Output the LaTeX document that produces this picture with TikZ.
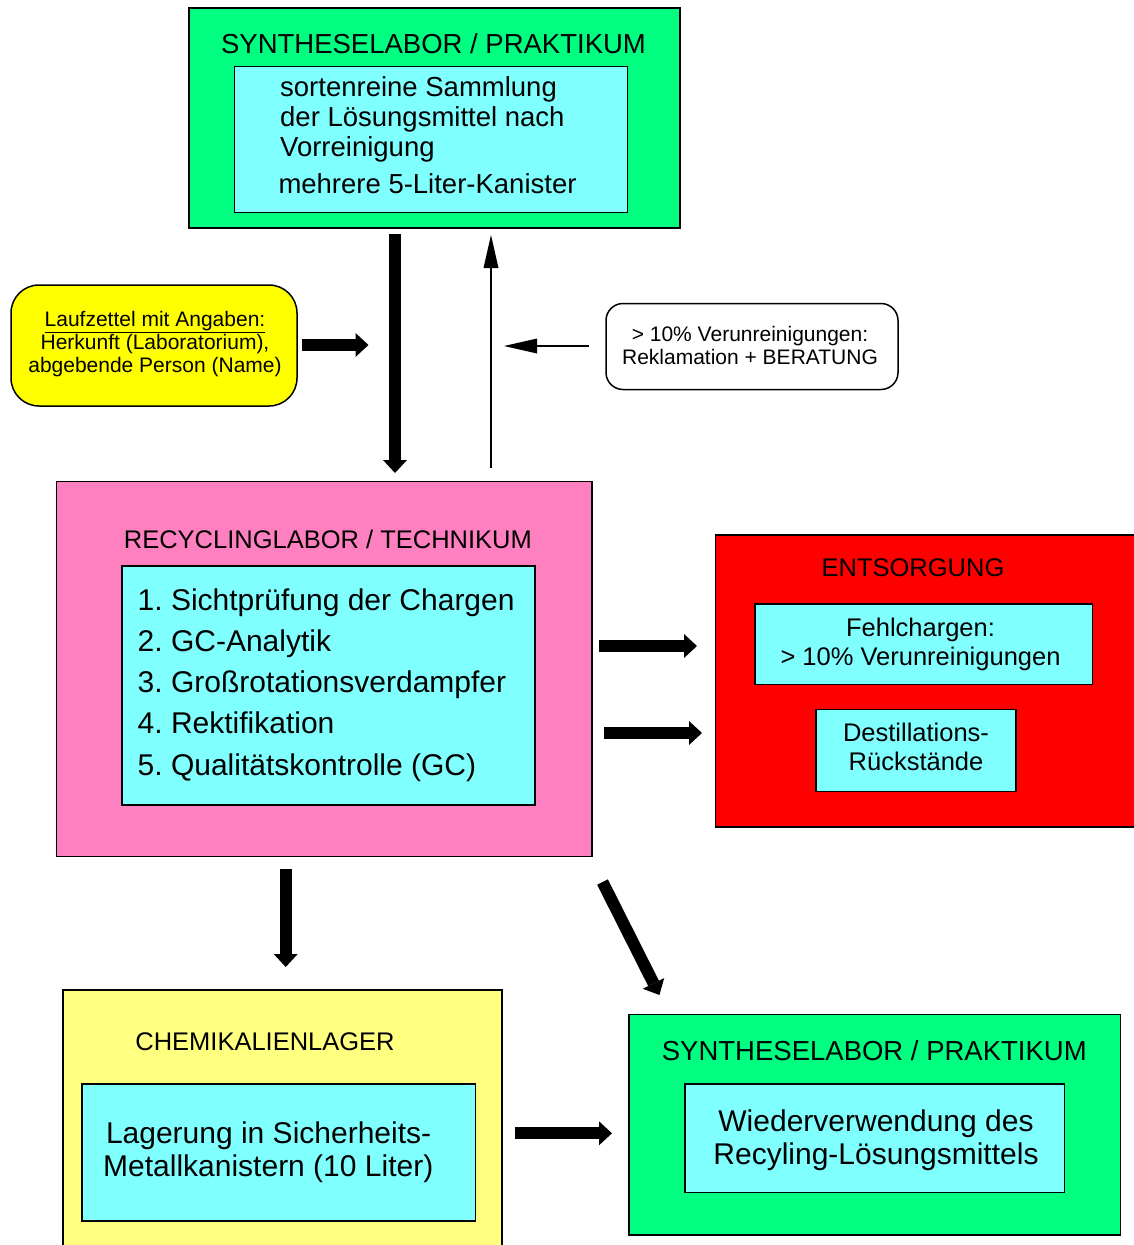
\documentclass[tikz,border=0pt]{standalone}
\usepackage{fontspec}
\setmainfont{Liberation Sans}
\frenchspacing
\usetikzlibrary{arrows.meta}
\usetikzlibrary{positioning}
\definecolor{synth}{RGB}{0,255,128}
\definecolor{inner}{RGB}{128,255,255}
\definecolor{recyc}{RGB}{255,128,192}
\definecolor{lager}{RGB}{255,255,128}
\definecolor{zettel}{RGB}{255,255,0}
\tikzset{box/.style = {draw, line width = 1.5pt, inner sep = 0}}
\tikzset{fat/.style = {line width = 12pt, -{Triangle[width = 24pt, length = 13pt, line width = 0pt]}}}
\tikzset{slim/.style = {line width = 1.5pt, -{Triangle[width = 15pt, length = 33pt, line width = 0pt]}}}
\tikzset{headfont/.style = {inner sep = 0, font = \fontsize{27.5}{30}\selectfont}}
\tikzset{titlefont/.style = {inner sep = 0, font = \fontsize{25.5}{29}\selectfont}}
\tikzset{bigfont/.style = {inner sep = 0, font = \fontsize{30}{32.5}\selectfont}}
\tikzset{smallfont/.style = {inner sep = 0, font = \fontsize{21}{23}\selectfont}}

\begin{document}
\begin{tikzpicture}[x = 1pt, y = -1pt]
  \useasboundingbox (0, 0) rectangle (1133, 1245);

  % Synthese oben
  \node [box, fill = synth, minimum width = 491, minimum height = 220] (syn) at (434.5, 118) {};
  \node [box, fill = inner, minimum width = 393, minimum height = 146] (samm) at (430.8, 139.7) {};
  \node [headfont, anchor = base] (synT) at (433.5, 53.5) {SYNTHESELABOR / PRAKTIKUM};
  \node [headfont, anchor = base west, align = left] (sammT) at (280, 156.7)
    {sortenreine Sammlung\\der Lösungsmittel nach\\Vorreinigung};
  \node [headfont, anchor = base west] (kan) at (278.3, 193.3) {mehrere 5-Liter-Kanister};

  % Laufzettel und Reklamation
  \node [box, fill = zettel, rounded corners = 28pt, minimum width = 286, minimum height = 121] (lauf) at (154, 345.5) {};
  \node [smallfont, anchor = base, align = center] (laufT) at (155, 372.7)
    {\underline{Laufzettel mit Angaben:}\\Herkunft (Laboratorium),\\abgebende Person (Name)};
  \node [box, fill = white, rounded corners = 17pt, minimum width = 292, minimum height = 86] (rekl) at (752, 346.5) {};
  \node [smallfont, anchor = base, align = center] (reklT) at (750, 364)
    {> 10\% Verunreinigungen:\\Reklamation + BERATUNG};

  % Recyclinglabor
  \node [box, fill = recyc, minimum width = 535.5, minimum height = 375] (recy) at (324.2, 669.2) {};
  \node [box, fill = inner, minimum width = 413.2, minimum height = 239.3] (proc) at (328.4, 685.4) {};
  \node [titlefont, anchor = base] (recyT) at (327.9, 548.3) {RECYCLINGLABOR / TECHNIKUM};
  \node [bigfont, anchor = base west] (p1) at (137.5, 610) {1. Sichtprüfung der Chargen};
  \node [bigfont, anchor = base west] (p2) at (137.5, 651.3) {2. GC-Analytik};
  \node [bigfont, anchor = base west] (p3) at (137.5, 692.5) {3. Großrotationsverdampfer};
  \node [bigfont, anchor = base west] (p4) at (137.5, 733.8) {4. Rektifikation};
  \node [bigfont, anchor = base west] (p5) at (137.5, 775) {5. Qualitätskontrolle (GC)};

  % Entsorgung
  \node [box, fill = red, minimum width = 429.5, minimum height = 291.7] (ents) at (930.3, 680.9) {};
  \node [titlefont, anchor = base] (entsT) at (913, 576.7) {ENTSORGUNG};
  \node [box, fill = inner, minimum width = 337.3, minimum height = 80.3] (fehl) at (923.7, 644.2) {};
  \node [titlefont, anchor = base, align = center] (fehlT) at (920.5, 665.7)
    {Fehlchargen:\\> 10\% Verunreinigungen};
  \node [box, fill = inner, minimum width = 200, minimum height = 82.4] (dest) at (916, 750.5) {};
  \node [titlefont, anchor = base, align = center] (destT) at (916, 770)
    {Destillations-\\Rückstände};

  % Chemikalienlager
  \node [box, fill = lager, minimum width = 439, minimum height = 270] (lag) at (282.5, 1125) {};
  \node [titlefont, anchor = base] (lagT) at (265, 1050) {CHEMIKALIENLAGER};
  \node [box, fill = inner, minimum width = 393.5, minimum height = 137] (kani) at (278.8, 1152.5) {};
  \node [bigfont, anchor = base west] (kani1) at (105.8, 1143) {Lagerung in Sicherheits-};
  \node [bigfont, anchor = base west] (kani2) at (103, 1176.7) {Metallkanistern (10 Liter)};

  % Synthese unten
  \node [box, fill = synth, minimum width = 491.7, minimum height = 220.7] (syn2) at (874.6, 1124.7) {};
  \node [headfont, anchor = base] (syn2T) at (874.3, 1060) {SYNTHESELABOR / PRAKTIKUM};
  \node [box, fill = inner, minimum width = 379.3, minimum height = 108.3] (wied) at (874.7, 1138.2) {};
  \node [bigfont, anchor = base, align = center] (wiedT) at (876, 1164)
    {Wiederverwendung des\\Recyling-Lösungsmittels};

  % Pfeile
  \coordinate (a1) at (395, 234);
  \coordinate (b1) at (395, 473);
  \coordinate (a2) at (302, 345);
  \coordinate (b2) at (368.5, 345);
  \coordinate (a3) at (491, 468);
  \coordinate (b3) at (491, 235);
  \coordinate (a4) at (589, 346);
  \coordinate (b4) at (504, 346);
  \coordinate (a5) at (599, 646);
  \coordinate (b5) at (697, 646);
  \coordinate (a6) at (604, 733);
  \coordinate (b6) at (702, 733);
  \coordinate (a7) at (285.7, 869);
  \coordinate (b7) at (285.7, 967);
  \coordinate (a8) at (602.5, 882);
  \coordinate (b8) at (659.4, 995);
  \coordinate (a9) at (514.6, 1133.3);
  \coordinate (b9) at (612, 1133.3);

  \draw [fat] (a1) -- (b1);
  \draw [fat] (a2) -- (b2);
  \draw [slim] (a3) -- (b3);
  \draw [slim] (a4) -- (b4);
  \draw [fat] (a5) -- (b5);
  \draw [fat] (a6) -- (b6);
  \draw [fat] (a7) -- (b7);
  \draw [fat] (a8) -- (b8);
  \draw [fat] (a9) -- (b9);
\end{tikzpicture}
\end{document}
